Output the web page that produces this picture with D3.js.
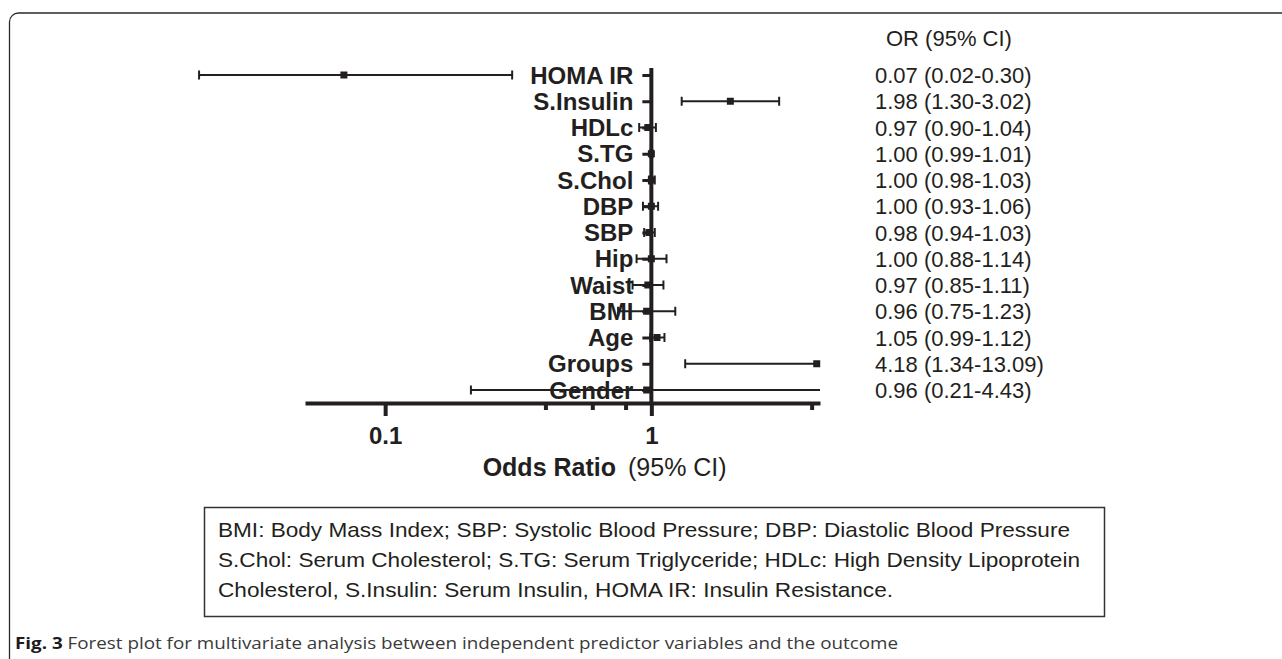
<!DOCTYPE html>
<html>
<head>
<meta charset="utf-8">
<script src="https://cdn.jsdelivr.net/npm/d3@7"></script>
<style>
  body { margin: 0; background: #fff; }
  svg text { fill: #231f20; }
</style>
</head>
<body>
<div id="chart"></div>
<script>
// forest plot data (top to bottom)
var labels = ["HOMA IR", "S.Insulin", "HDLc", "S.TG", "S.Chol", "DBP", "SBP", "Hip", "Waist", "BMI", "Age", "Groups", "Gender"];
var oddsRatio = [0.07, 1.98, 0.97, 1.00, 1.00, 1.00, 0.98, 1.00, 0.97, 0.96, 1.05, 4.18, 0.96];
var ciLower = [0.02, 1.30, 0.90, 0.99, 0.98, 0.93, 0.94, 0.88, 0.85, 0.75, 0.99, 1.34, 0.21];
var ciUpper = [0.30, 3.02, 1.04, 1.01, 1.03, 1.06, 1.03, 1.14, 1.11, 1.23, 1.12, 13.09, 4.43];
var ciText = ["0.07 (0.02-0.30)", "1.98 (1.30-3.02)", "0.97 (0.90-1.04)", "1.00 (0.99-1.01)",
  "1.00 (0.98-1.03)", "1.00 (0.93-1.06)", "0.98 (0.94-1.03)", "1.00 (0.88-1.14)",
  "0.97 (0.85-1.11)", "0.96 (0.75-1.23)", "1.05 (0.99-1.12)", "4.18 (1.34-13.09)", "0.96 (0.21-4.43)"];

var majorTicks = [0.1, 1];
var minorTicks = [0.4, 0.6, 0.8, 4];
var xDomain = [0.05, 4.3];

var noteLines = [
  "BMI: Body Mass Index; SBP: Systolic Blood Pressure; DBP: Diastolic Blood Pressure",
  "S.Chol: Serum Cholesterol; S.TG: Serum Triglyceride; HDLc: High Density Lipoprotein",
  "Cholesterol, S.Insulin: Serum Insulin, HOMA IR: Insulin Resistance."
];
var noteWidths = [852, 862, 675];

var svgWidth = 1282;
var svgHeight = 659;
var font = "'Liberation Sans', Arial, sans-serif";

var svg = d3.select("#chart")
    .append("svg")
    .attr("width", svgWidth)
    .attr("height", svgHeight)
    .style("display", "block");

// outer figure frame (rounded top-left corner, runs off the page)
svg.append("rect")
    .attr("x", 9.5)
    .attr("y", 13)
    .attr("width", 1400)
    .attr("height", 800)
    .attr("rx", 9)
    .attr("fill", "none")
    .attr("stroke", "#2a2a2a")
    .attr("stroke-width", 1.3);

var rows = labels.map(function (d, i) {
    return { label: d, or: oddsRatio[i], lo: ciLower[i], hi: ciUpper[i], txt: ciText[i] };
});

var xScale = d3.scaleLog()
    .domain(xDomain)
    .range([305, 820]);

var yScale = d3.scalePoint()
    .domain(labels)
    .range([75, 390]);

var axisY = 403;

// x axis - labelled ticks
var xAxis = svg.append("g")
    .attr("transform", `translate(0, ${axisY})`)
    .call(d3.axisBottom(xScale)
        .tickValues(majorTicks)
        .tickFormat(d3.format("~g"))
        .tickSize(13)
        .tickSizeOuter(0)
        .tickPadding(11));
xAxis.select(".domain").attr("stroke", "#231f20").attr("stroke-width", 4);
xAxis.selectAll(".tick line").attr("stroke", "#231f20").attr("stroke-width", 4);
xAxis.selectAll(".tick text")
    .attr("font-family", font)
    .attr("font-size", 24)
    .attr("font-weight", "bold")
    .attr("fill", "#231f20");

// minor ticks
var xMinor = svg.append("g")
    .attr("transform", `translate(0, ${axisY})`)
    .call(d3.axisBottom(xScale)
        .tickValues(minorTicks)
        .tickFormat("")
        .tickSize(7)
        .tickSizeOuter(0));
xMinor.select(".domain").remove();
xMinor.selectAll(".tick line").attr("stroke", "#231f20").attr("stroke-width", 4);

// vertical reference line at OR = 1
svg.append("line")
    .attr("x1", xScale(1))
    .attr("x2", xScale(1))
    .attr("y1", yScale(labels[0]) - 7)
    .attr("y2", axisY)
    .attr("stroke", "#231f20")
    .attr("stroke-width", 4);

// y axis labels + small ticks
var yAxis = svg.append("g")
    .attr("transform", `translate(${xScale(1)}, 0)`)
    .call(d3.axisLeft(yScale)
        .tickSize(9)
        .tickSizeOuter(0)
        .tickPadding(9));
yAxis.select(".domain").remove();
yAxis.selectAll(".tick line").attr("stroke", "#231f20").attr("stroke-width", 3);
yAxis.selectAll(".tick text")
    .attr("font-family", font)
    .attr("font-size", 24)
    .attr("font-weight", "bold")
    .attr("dy", "0.34em")
    .attr("fill", "#231f20");

// CI lines, cut at the right end of the axis only
function clampX(v) {
    return xScale(Math.min(xDomain[1], v));
}

var ci = svg.append("g").selectAll("g")
    .data(rows)
    .enter()
    .append("g")
    .attr("transform", function (d) { return `translate(0, ${yScale(d.label)})`; });

ci.append("line")
    .attr("x1", function (d) { return clampX(d.lo); })
    .attr("x2", function (d) { return clampX(d.hi); })
    .attr("stroke", "#231f20")
    .attr("stroke-width", 2);

ci.selectAll(".cap")
    .data(function (d) { return [d.lo, d.hi].filter(function (v) { return v <= xDomain[1]; }); })
    .enter()
    .append("line")
    .attr("class", "cap")
    .attr("x1", function (v) { return xScale(v); })
    .attr("x2", function (v) { return xScale(v); })
    .attr("y1", -4.5)
    .attr("y2", 4.5)
    .attr("stroke", "#231f20")
    .attr("stroke-width", 2);

ci.append("rect")
    .attr("x", function (d) { return xScale(d.or) - 3.5; })
    .attr("y", -3.5)
    .attr("width", 7)
    .attr("height", 7)
    .attr("fill", "#231f20");

// right hand column
svg.append("text")
    .attr("x", 886)
    .attr("y", 46)
    .attr("font-family", font)
    .attr("font-size", 22)
    .text("OR (95% CI)");

svg.append("g").selectAll("text")
    .data(rows)
    .enter()
    .append("text")
    .attr("x", 875)
    .attr("y", function (d) { return yScale(d.label); })
    .attr("dy", "0.37em")
    .attr("font-family", font)
    .attr("font-size", 22)
    .text(function (d) { return d.txt; });

// x axis title
svg.append("text")
    .attr("x", 616)
    .attr("y", 476)
    .attr("text-anchor", "end")
    .attr("font-family", font)
    .attr("font-size", 25)
    .attr("font-weight", "bold")
    .text("Odds Ratio");

svg.append("text")
    .attr("x", 628)
    .attr("y", 476)
    .attr("font-family", font)
    .attr("font-size", 25)
    .text("(95% CI)");

// abbreviations box
svg.append("rect")
    .attr("x", 204.5)
    .attr("y", 507.5)
    .attr("width", 900)
    .attr("height", 109)
    .attr("fill", "none")
    .attr("stroke", "#333")
    .attr("stroke-width", 1.5);

svg.append("g").selectAll("text")
    .data(noteLines)
    .enter()
    .append("text")
    .attr("x", 218)
    .attr("y", function (d, i) { return 537 + i * 30; })
    .attr("font-family", font)
    .attr("font-size", 21)
    .attr("textLength", function (d, i) { return noteWidths[i]; })
    .attr("lengthAdjust", "spacingAndGlyphs")
    .text(function (d) { return d; });

// figure caption
var cap = svg.append("text")
    .attr("x", 15)
    .attr("y", 649)
    .attr("font-family", "'Open Sans', 'Noto Sans', sans-serif")
    .attr("font-size", 16)
    .attr("textLength", 883)
    .attr("lengthAdjust", "spacingAndGlyphs");
cap.append("tspan")
    .attr("font-weight", "bold")
    .style("fill", "#1f1a1b")
    .text("Fig. 3");
cap.append("tspan")
    .style("fill", "#3a3a3a")
    .text(" Forest plot for multivariate analysis between independent predictor variables and the outcome");
</script>
</body>
</html>
